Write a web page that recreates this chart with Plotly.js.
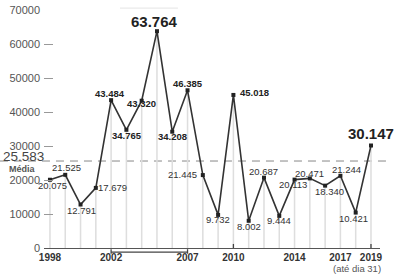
<!DOCTYPE html>
<html><head><meta charset="utf-8">
<script src="https://cdn.plot.ly/plotly-3.0.1.min.js"></script>
<style>html,body{margin:0;padding:0;background:#fff}#chart{width:400px;height:278px}</style>
</head><body><div id="chart"></div>
<script>
const years = [1998,1999,2000,2001,2002,2003,2004,2005,2006,2007,2008,2009,2010,2011,2012,2013,2014,2015,2016,2017,2018,2019];
const counts = [20075,21525,12791,17679,43484,34765,43320,63764,34208,46385,21445,9732,45018,8002,20687,9444,20113,20471,18340,21244,10421,30147];
const meanValue = 25583;
const meanLabel = 'Média';
const tickYears = [1998,2002,2007,2010,2014,2017,2019];
const yTicks = [0,10000,20000,30000,40000,50000,60000,70000];
const noteText = '(até dia 31)';
const periodStart = 2002, periodEnd = 2007;
const markedTicks = [2010,2019];

// label placement (pixels) and style per point
const labelDx = [3,1,1,17,-1,1,0,-2,0,0,-20,0,21,0,0,0,-2,0,4,6,-2,0];
const labelDy = [6,-7,6,0,-7,6,3,-10,5,-7,-1,5,-2,6,-6,5,5,-5,6,-6,6,-12];
const labelStyle = ['n','n','n','n','b','b','b','L','b','b','n','n','b','n','n','n','n','n','n','n','n','L'];

function fmt(v){ return String(v).replace(/\B(?=(\d{3})+(?!\d))/g,'.'); }

const FONT = 'Liberation Sans, Arial, sans-serif';

const annotations = years.map((yr,i)=>{
  const s = labelStyle[i];
  return {x:yr, y:counts[i], xref:'x', yref:'y', text:fmt(counts[i]), showarrow:false,
    xshift:labelDx[i], yshift:-labelDy[i],
    font:{family:FONT, size: s==='L'?15:9.5, color: s==='n'?'#333':'#222', weight: s==='n'?'normal':'bold'}};
});
annotations.push({xref:'paper', yref:'y', x:-0.128, y:meanValue, xanchor:'left', yanchor:'bottom', yshift:-5,
  text:fmt(meanValue), showarrow:false, font:{family:FONT, size:13.5, color:'#444'}});
annotations.push({xref:'paper', yref:'y', x:-0.11, y:meanValue, xanchor:'left', yanchor:'top', yshift:-1,
  text:meanLabel, showarrow:false, font:{family:FONT, size:9, color:'#555', weight:'bold'}});
annotations.push({xref:'x', yref:'paper', x:2018.1, y:-0.085, xanchor:'center', yanchor:'middle',
  text:noteText, showarrow:false, font:{family:FONT, size:9.5, color:'#555'}});

const shapes = [
  {type:'line', xref:'paper', yref:'y', x0:-0.131, x1:1.03, y0:meanValue, y1:meanValue,
   line:{color:'#888', width:1, dash:'8px,6px'}, layer:'below'},
  {type:'line', xref:'x', yref:'paper', x0:periodStart, x1:periodEnd, y0:-0.017, y1:-0.017, line:{color:'#444', width:1.3}},
  {type:'line', xref:'x', yref:'paper', x0:periodStart, x1:periodStart, y0:-0.005, y1:-0.024, line:{color:'#444', width:1.3}},
  {type:'line', xref:'x', yref:'paper', x0:periodEnd, x1:periodEnd, y0:-0.005, y1:-0.024, line:{color:'#444', width:1.3}},
  {type:'line', xref:'x', yref:'paper', x0:2002.58, x1:2006.37, y0:1.008, y1:1.008, line:{color:'#e4e4e4', width:1}}
];
markedTicks.forEach(t=>{
  shapes.push({type:'line', xref:'x', yref:'paper', x0:t, x1:t, y0:0.0, y1:0.017, line:{color:'#444', width:1.3}});
});

const data = [
  {type:'bar', x:years, y:counts, width:0.1, marker:{color:'#dedede', line:{width:0}}, hoverinfo:'skip'},
  {type:'scatter', mode:'lines+markers', x:years, y:counts, line:{color:'#333', width:1.6},
   marker:{color:'#222', size:4, symbol:'square'}, hoverinfo:'skip'}
];

const layout = {
  width:400, height:278, margin:{l:44, r:20, t:10, b:30},
  paper_bgcolor:'#fff', plot_bgcolor:'#fff', showlegend:false,
  font:{family:FONT},
  xaxis:{range:[1997.61, 2019.59], tickmode:'array', tickvals:tickYears, ticktext:tickYears.map(String),
    showgrid:false, zeroline:false, showline:true, linecolor:'#555', linewidth:1.3, ticks:'',
    tickfont:{family:FONT, size:10, color:'#333', weight:'bold'}},
  yaxis:{range:[0,70000], tickmode:'array', tickvals:yTicks, ticktext:yTicks.map(String),
    showgrid:false, zeroline:false, showline:false, ticks:'inside', ticklen:9, tickcolor:'#999', tickwidth:1,
    ticklabelstandoff:3,
    tickfont:{family:FONT, size:11, color:'#555'}},
  shapes:shapes, annotations:annotations
};

Plotly.newPlot('chart', data, layout, {displayModeBar:false, staticPlot:true});
</script></body></html>
